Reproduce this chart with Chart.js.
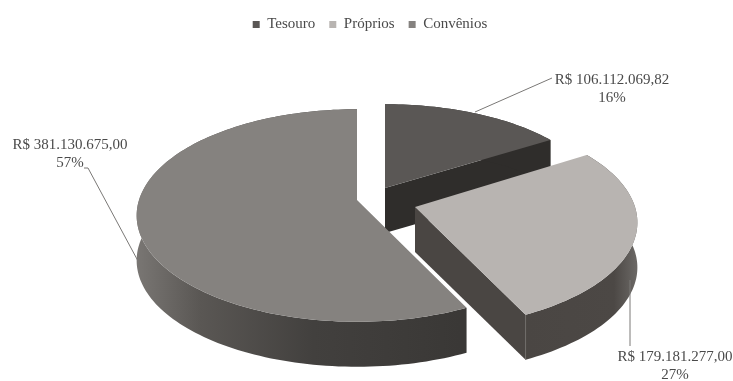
<!DOCTYPE html>
<html lang="pt">
<head>
<meta charset="utf-8">
<title>Receitas por fonte</title>
<script src="https://cdn.jsdelivr.net/npm/chart.js@4"></script>
<style>
  html, body { margin: 0; padding: 0; background: #fff; }
  canvas { display: block; filter: blur(0.6px); }
</style>
</head>
<body>
<canvas id="chart" width="733" height="381"></canvas>
<script>
// Chart data
const categories = ['Tesouro', 'Próprios', 'Convênios'];
const amounts = [106112069.82, 179181277.00, 381130675.00];
const amountLabels = ['R$ 106.112.069,82', 'R$ 179.181.277,00', 'R$ 381.130.675,00'];
const percentLabels = ['16%', '27%', '57%'];

// Look of each slice
const topColors = ['#5a5755', '#b8b4b1', '#85827f'];
const faceColors = ['#2f2d2b', '#4a4643', '#3c3a38'];
const apexes = [[385, 188], [415, 207], [357, 200]];
const radii = [[212, 96], [220, 104], [218, 104]];
const labelCenters = [[612, 80], [675, 357], [70, 145]];
const leaders = [
    [[475, 112], [552, 78]],
    [[630, 280], [630, 346]],
    [[138, 261], [88, 168], [84, 168]]
];
const drawOrder = [0, 2, 1];

const DEPTH = 45;
const PERSPECTIVE = 0.146;
const LABEL_FONT = '15px "Liberation Serif", serif';

// Tilted view of a point on the unit circle
function project(apex, radius, angle) {
    const u = Math.cos(angle);
    const v = Math.sin(angle);
    const p = 1 / (1 - PERSPECTIVE * v);
    return [apex[0] + radius[0] * u * p, apex[1] + radius[1] * v * p];
}

function tracePolygon(ctx, points) {
    ctx.beginPath();
    points.forEach((pt, i) => (i ? ctx.lineTo(pt[0], pt[1]) : ctx.moveTo(pt[0], pt[1])));
    ctx.closePath();
}

function arcSideFill(ctx, index) {
    if (index === 2) {
        const grad = ctx.createLinearGradient(135, 0, 460, 0);
        grad.addColorStop(0, '#7a7774');
        grad.addColorStop(0.2, '#5a5754');
        grad.addColorStop(0.55, '#42403e');
        grad.addColorStop(1, '#3a3836');
        return grad;
    }
    if (index === 1) {
        const grad = ctx.createLinearGradient(526, 0, 636, 0);
        grad.addColorStop(0, '#4a4643');
        grad.addColorStop(0.8, '#4c4845');
        grad.addColorStop(1, '#6a6764');
        return grad;
    }
    return faceColors[index];
}

const pie3d = {
    id: 'pie3d',
    // the doughnut controller gives the angles, the tilt is applied here
    beforeDatasetsDraw(chart) {
        const ctx = chart.ctx;
        const arcs = chart.getDatasetMeta(0).data;

        drawOrder.forEach(i => {
            const arc = arcs[i];
            const apex = apexes[i];
            const steps = Math.ceil((arc.endAngle - arc.startAngle) * 40);
            const rim = [];
            for (let s = 0; s <= steps; s++) {
                rim.push(project(apex, radii[i], arc.startAngle + (arc.endAngle - arc.startAngle) * s / steps));
            }
            const lowered = rim.map(pt => [pt[0], pt[1] + DEPTH]).reverse();
            const end = rim[rim.length - 1];

            ctx.save();
            // cut face
            ctx.fillStyle = faceColors[i];
            tracePolygon(ctx, [apex, end, [end[0], end[1] + DEPTH], [apex[0], apex[1] + DEPTH]]);
            ctx.fill();

            // outer wall
            ctx.fillStyle = arcSideFill(ctx, i);
            tracePolygon(ctx, rim.concat(lowered));
            ctx.fill();

            // corner highlight on the front slice
            if (i === 1) {
                ctx.strokeStyle = '#6f6c69';
                ctx.lineWidth = 1;
                ctx.beginPath();
                ctx.moveTo(end[0], end[1]);
                ctx.lineTo(end[0], end[1] + DEPTH);
                ctx.stroke();
            }

            // top
            ctx.fillStyle = arc.options.backgroundColor;
            tracePolygon(ctx, [apex].concat(rim));
            ctx.fill();
            ctx.restore();
        });

        drawLabels(ctx);
        return false;
    }
};

function drawLabels(ctx) {
    ctx.save();
    ctx.strokeStyle = '#7a7876';
    ctx.lineWidth = 1;
    leaders.forEach(line => {
        ctx.beginPath();
        line.forEach((pt, i) => (i ? ctx.lineTo(pt[0], pt[1]) : ctx.moveTo(pt[0], pt[1])));
        ctx.stroke();
    });

    ctx.fillStyle = '#4a4a4a';
    ctx.font = LABEL_FONT;
    ctx.textAlign = 'center';
    ctx.textBaseline = 'middle';
    amountLabels.forEach((text, i) => {
        const pos = labelCenters[i];
        ctx.fillText(text, pos[0], pos[1]);
        ctx.fillText(percentLabels[i], pos[0], pos[1] + 18);
    });
    ctx.restore();
}

new Chart(document.getElementById('chart'), {
    type: 'pie',
    data: {
        labels: categories,
        datasets: [{
            data: amounts,
            backgroundColor: topColors,
            borderWidth: 0
        }]
    },
    options: {
        responsive: false,
        animation: false,
        rotation: 0,
        layout: { padding: { left: 7, top: 3 } },
        plugins: {
            legend: {
                position: 'top',
                labels: {
                    boxWidth: 7,
                    boxHeight: 7,
                    padding: 14,
                    color: '#4a4a4a',
                    font: { family: '"Liberation Serif", serif', size: 15 }
                }
            },
            tooltip: { enabled: false }
        }
    },
    plugins: [pie3d]
});
</script>
</body>
</html>
